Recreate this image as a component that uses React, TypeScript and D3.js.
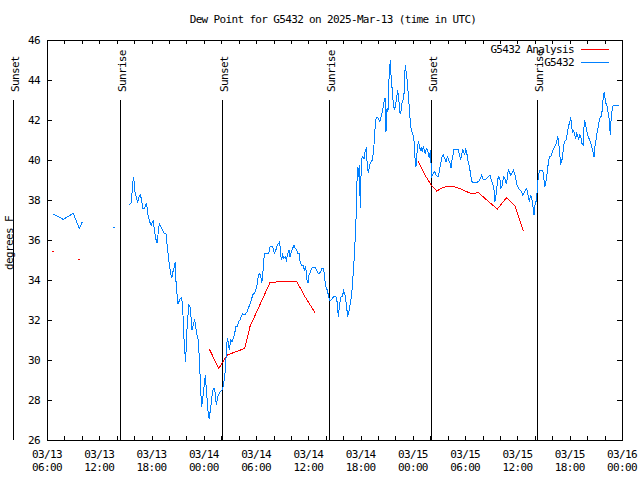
import React from "react";
import * as d3 from "d3";

// hours since 2025-03-13 06:00 UTC ; null value = gap
const g5432Hours = [
  0.72, 1.87, 3.02, 3.71, 4.05, 5.9, 7.72, 8.6,
  9.41, 9.64, 9.72, 9.91, 10.02, 10.1, 10.3, 10.41, 10.56, 10.71, 10.87, 10.98, 11.17, 11.33, 11.44, 11.56, 11.71, 11.86, 11.97,
  12.09, 12.2, 12.32, 12.48, 12.63, 12.78, 12.89, 13.05, 13.23, 13.46, 13.69, 13.81, 13.92, 14.04, 14.2, 14.31, 14.46, 14.61, 14.73,
  14.81, 14.92, 15.04, 15.15, 15.3, 15.46, 15.58, 15.69, 15.81, 15.92, 16.03, 16.15, 16.26, 16.41, 16.53, 16.64, 16.79, 16.95,
  17.07, 17.18, 17.33, 17.45, 17.56, 17.68, 17.76, 17.87, 17.99, 18.1, 18.22, 18.28, 18.4, 18.51, 18.63, 18.74, 18.86, 18.97,
  19.09, 19.2, 19.32, 19.43, 19.55, 19.66, 19.82, 19.97, 20.12, 20.28, 20.4, 20.51, 20.63, 20.69, 20.81, 20.92, 21.09, 21.23,
  21.38, 21.54, 21.69, 21.84, 22.0, 22.15, 22.3, 22.46, 22.69, 22.84, 22.99, 23.15, 23.3, 23.45, 23.61, 23.76, 23.91, 24.07,
  24.22, 24.37, 24.53, 24.64, 24.76, 24.87, 24.99, 25.22, 25.45, 25.6, 25.83, 25.98, 26.09, 26.25, 26.43, 26.59, 26.71, 26.82,
  26.94, 27.05, 27.2, 27.35, 27.47, 27.63, 27.78, 27.89, 28.04, 28.2, 28.35, 28.5, 28.66, 28.81, 28.96, 29.07, 29.23, 29.38,
  29.53, 29.69, 29.84, 29.96, 30.07, 30.19, 30.38, 30.57, 30.8, 30.96, 31.11, 31.25, 31.42, 31.56, 31.71, 31.83, 31.94, 32.06,
  32.17, 32.33, 32.45, 32.6, 32.75, 32.91, 33.14, 33.29, 33.44, 33.6, 33.75, 33.89, 34.06, 34.2, 34.35, 34.51, 34.66, 34.81,
  34.97, 35.12, 35.27, 35.43, 35.55, 35.62, 35.73, 35.85, 35.96, 36.04, 36.12, 36.24, 36.39, 36.53, 36.65, 36.76, 36.88, 37.04,
  37.19, 37.34, 37.5, 37.61, 37.73, 37.88, 38.03, 38.19, 38.3, 38.42, 38.53, 38.65, 38.8, 38.91, 39.03, 39.14, 39.22, 39.33,
  39.4, 39.52, 39.63, 39.75, 39.86, 39.98, 40.09, 40.25, 40.4, 40.52, 40.63, 40.75, 40.86, 40.98, 41.06, 41.13, 41.24, 41.36,
  41.47, 41.59, 41.7, 41.81, 41.97, 42.12, 42.24, 42.35, 42.47, 42.62, 42.73, 42.85, 42.96, 43.08, 43.19, 43.31, 43.42, 43.54,
  43.65, 43.77, 43.88, 44.0, 44.08, 44.16, 44.34, 44.5, 44.65, 44.88, 45.03, 45.19, 45.34, 45.49, 45.65, 45.8, 45.95, 46.11,
  46.26, 46.37, 46.49, 46.6, 46.72, 46.95, 47.18, 47.32, 47.48, 47.6, 47.71, 47.83, 47.94, 48.06, 48.17, 48.29, 48.4, 48.52,
  48.63, 48.75, 48.93, 49.13, 49.32, 49.51, 49.7, 49.89, 50.01, 50.16, 50.31, 50.47, 50.65, 50.85, 51.0, 51.16, 51.31, 51.42,
  51.54, 51.65, 51.77, 51.88, 52.0, 52.11, 52.22, 52.34, 52.45, 52.6, 52.72, 52.83, 52.95, 53.06, 53.22, 53.37, 53.52, 53.68,
  53.83, 53.98, 54.14, 54.29, 54.44, 54.6, 54.75, 54.9, 55.06, 55.21, 55.36, 55.52, 55.67, 55.78, 55.9, 56.01, 56.13, 56.24,
  56.36, 56.47, 56.59, 56.74, 56.9, 57.01, 57.13, 57.24, 57.36, 57.47, 57.58, 57.7, 57.85, 58.0, 58.16, 58.31, 58.46, 58.62,
  58.73, 58.85, 58.96, 59.08, 59.19, 59.31, 59.42, 59.57, 59.72, 59.88, 60.0, 60.11, 60.22, 60.34, 60.45, 60.57, 60.69, 60.8,
  60.91, 61.03, 61.14, 61.26, 61.41, 61.56, 61.67, 61.79, 61.9, 62.06, 62.21, 62.36, 62.52, 62.67, 62.79, 62.9, 63.01, 63.13,
  63.28, 63.44, 63.59, 63.74, 63.85, 63.97, 64.08, 64.2, 64.31, 64.42, 64.54, 64.66, 64.77, 64.88, 65.0, 65.23, 65.46, 65.69,
];
const g5432Values: (number | null)[] = [
  37.3, 37.03, 37.33, 36.58, 36.9, null, 36.63, null,
  37.75, 37.83, 38.17, 39.13, 38.87, 38.42, 38.08, 37.87, 38.13, 38.25, 38.0, 37.58, 37.58, 37.75, 37.83, 37.33, 37.03, 36.83, 36.73,
  36.92, 36.97, 36.5, 36.08, 35.83, 36.42, 36.83, 36.7, 36.5, 36.33, 36.3, 35.58, 35.25, 34.75, 34.33, 34.08, 34.42, 34.67, 34.92,
  33.92, 33.33, 32.8, 32.92, 33.08, 33.13, 32.58, 31.33, 30.42, 29.92, 31.33, 32.0, 32.75, 32.67, 32.17, 31.5, 31.75, 32.03,
  31.67, 31.33, 31.08, 30.33, 29.33, 28.17, 27.67, 28.08, 28.5, 29.0, 29.25, 28.33, 28.0, 27.25, 27.03, 27.5, 27.83, 28.33,
  28.58, 28.58, 28.33, 27.75, 28.0, 28.25, 28.37, 28.45, 28.5, 28.83, 29.17, 29.83, 30.67, 31.08, 30.9, 30.5, 31.0, 30.92,
  31.08, 31.33, 31.67, 31.67, 31.92, 32.0, 32.2, 32.3, 32.25, 32.33, 32.43, 32.63, 32.8, 33.0, 33.25, 33.33, 33.42, 33.67,
  34.08, 34.33, 34.25, 33.83, 34.17, 35.0, 35.33, 35.33, 35.33, 35.67, 35.7, 35.58, 35.33, 35.47, 35.75, 35.83, 35.92, 35.25,
  35.0, 35.25, 35.08, 35.17, 35.0, 35.33, 35.5, 35.17, 35.42, 35.58, 35.75, 35.58, 35.5, 35.33, 35.33, 34.83, 34.75, 34.75,
  34.5, 34.67, 34.0, 33.83, 34.25, 34.33, 34.58, 34.63, 34.63, 34.5, 34.33, 34.33, 34.42, 34.58, 34.58, 34.33, 33.83, 33.58,
  33.5, 33.17, 33.0, 33.0, 33.08, 33.17, 33.2, 32.92, 32.17, 32.83, 33.17, 33.17, 33.47, 33.25, 32.83, 32.17, 32.42, 32.83,
  33.25, 34.17, 35.17, 36.5, 38.17, 39.67, 39.17, 39.75, 37.58, 39.17, 40.08, 40.17, 40.08, 40.5, 40.58, 39.75, 39.33, 39.75,
  39.92, 40.0, 40.5, 41.33, 42.0, 42.13, 42.08, 41.92, 42.08, 42.25, 42.5, 42.83, 43.08, 41.42, 42.58, 42.42, 43.83, 44.5,
  45.0, 44.0, 43.5, 42.83, 42.5, 42.67, 43.0, 43.5, 42.92, 42.33, 42.42, 42.83, 43.0, 43.33, 44.25, 44.75, 44.33, 43.92,
  43.25, 42.58, 41.92, 41.5, 41.33, 41.0, 40.08, 39.67, 40.33, 40.92, 40.75, 40.5, 40.58, 40.42, 40.67, 40.5, 40.33, 40.58,
  40.5, 40.33, 40.08, 40.5, 39.83, 39.17, 39.33, 39.42, 39.25, 39.17, 39.42, 39.83, 40.17, 40.25, 40.08, 39.92, 40.17, 40.0,
  39.83, 39.58, 40.0, 40.25, 40.53, 40.53, 40.53, 40.33, 40.0, 40.25, 40.5, 40.42, 40.25, 40.53, 40.42, 40.0, 39.83, 39.58,
  39.25, 38.92, 38.88, 38.88, 38.88, 38.92, 39.03, 39.25, 39.08, 39.0, 39.03, 39.08, 39.17, 39.25, 39.0, 38.83, 38.5, 37.92,
  38.25, 38.67, 39.08, 39.17, 39.0, 38.58, 38.67, 39.0, 39.17, 39.0, 38.83, 39.08, 39.5, 39.42, 39.25, 39.33, 39.5, 39.33,
  39.0, 38.7, 38.58, 38.5, 38.42, 38.25, 38.33, 38.5, 38.58, 38.25, 37.92, 38.25, 38.0, 37.67, 37.25, 37.75, 37.92, 38.33,
  39.0, 39.33, 39.5, 39.5, 39.5, 39.17, 38.67, 38.83, 39.17, 39.58, 40.0, 40.2, 40.2, 40.42, 40.58, 40.7, 40.83, 41.17,
  40.92, 40.33, 39.83, 39.92, 40.25, 40.75, 40.92, 41.0, 41.33, 41.75, 41.83, 42.17, 41.67, 41.33, 41.5, 41.25, 41.08, 41.33,
  41.25, 41.0, 41.25, 41.17, 40.83, 40.75, 42.0, 41.83, 41.58, 41.25, 41.08, 40.92, 40.67, 40.42, 40.17, 40.67, 41.0, 41.33,
  41.67, 42.08, 42.17, 42.5, 43.17, 43.42, 43.0, 42.75, 42.67, 42.33, 42.0, 41.25, 42.25, 42.5, 42.75, 42.75, 42.75, 42.75,
];

const analysisHours = [
  0.72, 2.0, 3.71, 10.0,
  18.63, 19.71, 20.7, 22.69, 23.3, 25.6, 27.2, 28.66, 29.61, 30.76, 36.0,
  42.62, 43.39, 44.08, 44.73, 45.49, 46.34, 47.03, 47.78, 48.75, 49.51, 50.47, 51.69, 52.76, 53.72, 54.21, 54.67,
];
const analysisValues: (number | null)[] = [
  35.43, null, 35.03, null,
  30.55, 29.58, 30.25, 30.58, 31.67, 33.88, 33.93, 33.93, 33.17, 32.37, null,
  39.92, 39.25, 38.75, 38.45, 38.63, 38.7, 38.63, 38.5, 38.3, 38.38, 38.0, 37.55, 38.12, 37.7, 37.08, 36.47,
];

const sunHours = [-3.87, 8.41, 20.12, 32.4, 44.13, 56.28];
const sunLabels = ["Sunset", "Sunrise", "Sunset", "Sunrise", "Sunset", "Sunrise"];

const yTicks = [26, 28, 30, 32, 34, 36, 38, 40, 42, 44, 46];
const seriesNames = ["G5432 Analysis", "G5432"];
const seriesColors = ["#ff0000", "#0080ff"];

const BASE = Date.UTC(2025, 2, 13, 6);
const toDate = (h: number) => new Date(BASE + h * 3600e3);

const FONT = "'DejaVu Sans Mono', monospace";
const fontProps = { fontFamily: FONT, fontSize: 11, letterSpacing: -0.65, fill: "#000" };

type Pt = { t: Date; v: number | null };

function Series({ hours, values, color, x, y }: any) {
  const pts: Pt[] = hours.map((h: number, i: number) => ({ t: toDate(h), v: values[i] }));
  const line = d3
    .line<Pt>()
    .defined((d) => d.v != null)
    .x((d) => x(d.t))
    .y((d) => y(d.v as number));
  const isolated = pts.filter(
    (d, i) => d.v != null && (i === 0 || pts[i - 1].v == null) && (i === pts.length - 1 || pts[i + 1].v == null)
  );
  return (
    <g>
      <path d={line(pts) || ""} fill="none" stroke={color} strokeWidth={1} shapeRendering="crispEdges" />
      {isolated.map((d, i) => (
        <rect key={i} x={Math.round(x(d.t)) - 1} y={Math.round(y(d.v as number))} width={2} height={1} fill={color} />
      ))}
    </g>
  );
}

export default function App() {
  const W = 640, H = 480;
  const x = d3.scaleUtc().domain([toDate(0), toDate(66)]).range([47, 622]);
  const y = d3.scaleLinear().domain([26, 46]).range([440, 40]);
  const minor = x.ticks(d3.utcHour.every(2) as any);
  const major = x.ticks(d3.utcHour.every(6) as any);
  const fmtD = d3.utcFormat("%m/%d");
  const fmtT = d3.utcFormat("%H:%M");
  const L = 47, R = 622, T = 40, B = 440;
  const px = (v: number) => Math.round(v) + 0.5;

  return (
    <svg width={W} height={H} style={{ position: "absolute", left: 0, top: 0, background: "#fff" }}>
      <rect x={0} y={0} width={W} height={H} fill="#fff" />
      <text x={333} y={23} textAnchor="middle" {...fontProps}>
        Dew Point for G5432 on 2025-Mar-13 (time in UTC)
      </text>

      {/* sun lines */}
      {sunHours.map((h, i) => {
        const sx = px(x(toDate(h)));
        return (
          <g key={i}>
            <line x1={sx} x2={sx} y1={100} y2={B} stroke="#000" strokeWidth={1} shapeRendering="crispEdges" />
            <text transform={`translate(${sx + 5},92) rotate(-90)`} textAnchor="start" {...fontProps}>
              {sunLabels[i]}
            </text>
          </g>
        );
      })}

      {/* y ticks */}
      {yTicks.map((v) => {
        const yy = px(y(v));
        return (
          <g key={v}>
            <line x1={L} x2={L + 5} y1={yy} y2={yy} stroke="#000" shapeRendering="crispEdges" />
            <line x1={R - 5} x2={R} y1={yy} y2={yy} stroke="#000" shapeRendering="crispEdges" />
            <text x={40} y={yy} textAnchor="end" dominantBaseline="central" {...fontProps}>
              {v}
            </text>
          </g>
        );
      })}

      {/* x ticks */}
      {minor.map((d, i) => {
        const xx = px(x(d));
        return (
          <g key={i}>
            <line x1={xx} x2={xx} y1={B} y2={B - 4} stroke="#000" shapeRendering="crispEdges" />
            <line x1={xx} x2={xx} y1={T} y2={T + 4} stroke="#000" shapeRendering="crispEdges" />
          </g>
        );
      })}
      {major.map((d, i) => {
        const xx = x(d);
        return (
          <g key={i}>
            <text x={xx} y={458} textAnchor="middle" {...fontProps}>{fmtD(d)}</text>
            <text x={xx} y={471} textAnchor="middle" {...fontProps}>{fmtT(d)}</text>
          </g>
        );
      })}

      <text transform={`translate(13,243) rotate(-90)`} textAnchor="middle" {...fontProps}>
        degrees F
      </text>

      <Series hours={analysisHours} values={analysisValues} color={seriesColors[0]} x={x} y={y} />
      <Series hours={g5432Hours} values={g5432Values} color={seriesColors[1]} x={x} y={y} />

      {/* frame */}
      <rect x={L + 0.5} y={T + 0.5} width={R - L} height={B - T} fill="none" stroke="#000" shapeRendering="crispEdges" />

      {/* legend */}
      {seriesNames.map((n, i) => {
        const ly = 49.5 + i * 13;
        return (
          <g key={n}>
            <text x={574} y={ly} textAnchor="end" dominantBaseline="central" {...fontProps}>{n}</text>
            <line x1={581} x2={609} y1={ly} y2={ly} stroke={seriesColors[i]} shapeRendering="crispEdges" />
          </g>
        );
      })}
    </svg>
  );
}
